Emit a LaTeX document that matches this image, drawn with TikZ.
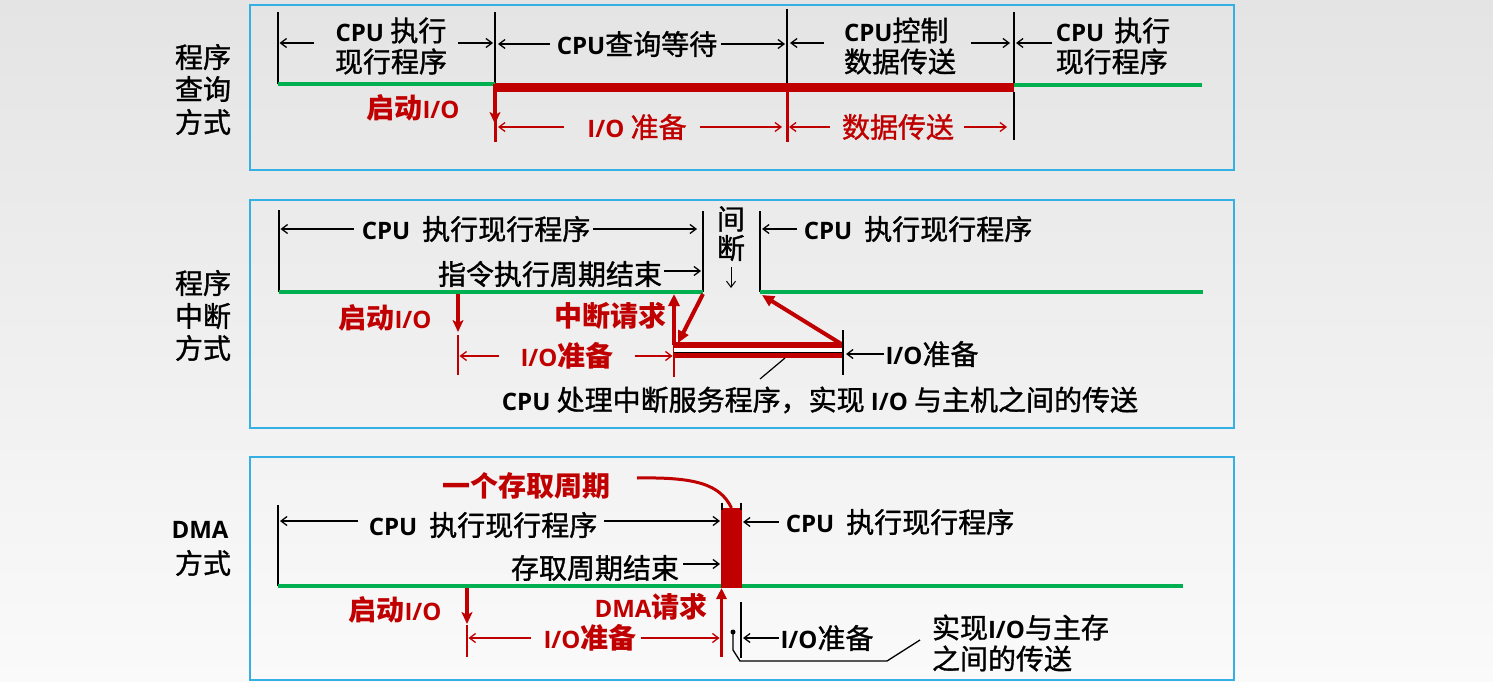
\documentclass[tikz,border=0pt]{standalone}
\usepackage{fontspec}
\setmainfont{Open Sans}
\newfontfamily\cjkf{Noto Sans CJK SC}[FakeBold=1.2]
\newfontfamily\cjkb{Noto Sans CJK SC}
\usetikzlibrary{arrows.meta}
\definecolor{dred}{RGB}{192,0,0}
\definecolor{dgreen}{RGB}{0,176,80}
\definecolor{pcyan}{RGB}{53,176,228}
\definecolor{bgtop}{RGB}{228,228,228}
\definecolor{bgbot}{RGB}{250,250,250}
\newcommand\zh[1]{{\cjkf\mdseries\fontsize{28}{31}\selectfont #1}}
\newcommand\zb[1]{{\cjkb\bfseries\fontsize{28}{31}\selectfont #1}}
\newcommand\en[1]{{\bfseries #1}}
\begin{document}
\begin{tikzpicture}[x=1pt,y=-1pt,
  lab/.style={inner sep=0pt, outer sep=0pt, font=\fontsize{24}{31}\selectfont, align=center},
  rlab/.style={lab, text=dred},
  tick/.style={line width=1.6pt, black},
  dim/.style={line width=1.3pt, -{Straight Barb[length=6pt,width=9pt]}},
  rdim/.style={dim, dred},
  gline/.style={line width=3.5pt, dgreen},
  rarrow/.style={line width=3.5pt, dred, -{Stealth[length=12pt,width=11pt,inset=3pt]}},
  rthick/.style={line width=4pt, dred, -{Triangle[length=12pt,width=11pt]}},
  panel/.style={draw=pcyan, line width=1.5pt}]
\useasboundingbox (0,0) rectangle (1493,682);
\shade[top color=bgtop, bottom color=bgbot] (0,0) rectangle (1493,682);

% ================= panel 1 =================
\draw[panel] (250,5) rectangle (1234,170);
\node[lab] (m1a) at (203,57) {\zh{程序}};
\node[lab] (m1b) at (203,89) {\zh{查询}};
\node[lab] (m1c) at (203,122) {\zh{方式}};
\coordinate (A1) at (278,84);
\coordinate (B1) at (495,84);
\coordinate (C1) at (787,84);
\coordinate (D1) at (1014,84);
\coordinate (E1) at (1202,85);
\draw[tick] (278,12) -- (A1);
\draw[tick] (495,12) -- (B1);
\draw[tick] (787,9) -- (C1);
\draw[tick] (1014,12) -- (D1);
\draw[gline] (A1) -- (B1);
\draw[gline] (D1 |- E1) -- (E1);
\fill[dred] (495,83) rectangle (1014,92);
\draw[dred, line width=3pt] (495,88) -- (495,142);
\draw[dred, line width=3pt] (787,88) -- (787,142);
\draw[line width=1.5pt] (1014,92) -- (1014,140);
\draw[rarrow] (B1) -- ++(0,40);

\node[lab] (t1) at (391,46) {\en{CPU} \zh{执行}\\\zh{现行程序}};
\draw[dim] ([xshift=-21pt,yshift=3pt]t1.west) -- ([xshift=1.5pt,yshift=3pt]A1 |- t1.west);
\draw[dim] ([xshift=11pt,yshift=3pt]t1.east) -- ([xshift=-2pt,yshift=3pt]B1 |- t1.east);
\node[lab] (t2) at (637,44) {\en{CPU}\zh{查询等待}};
\draw[dim] ([xshift=-7pt]t2.west) -- ([xshift=3pt]B1 |- t2.west);
\draw[dim] ([xshift=4pt]t2.east) -- ([xshift=-2pt]C1 |- t2.east);
\node[lab, align=left] (t3) at (900,46) {\en{CPU}\zh{控制}\\\zh{数据传送}};
\draw[dim] ([xshift=-20pt,yshift=3pt]t3.west) -- ([xshift=3pt,yshift=3pt]C1 |- t3.west);
\draw[dim] ([xshift=15pt,yshift=3pt]t3.east) -- ([xshift=-4pt,yshift=3pt]D1 |- t3.east);
\node[lab, align=left] (t4) at (1113,46) {\en{CPU}\hspace{10pt}\zh{执行}\\\zh{现行程序}};
\draw[dim] ([xshift=-4pt,yshift=3pt]t4.west) -- ([xshift=2pt,yshift=3pt]D1 |- t4.west);

\node[rlab] (r1) at (413,108) {\zb{启动}\en{I/O}};
\node[rlab] (r2) at (637,127) {\en{I/O} \zh{准备}};
\draw[rdim] ([xshift=-23pt]r2.west) -- ([xshift=3pt]B1 |- r2.west);
\draw[rdim] ([xshift=13pt]r2.east) -- ([xshift=-5pt]C1 |- r2.east);
\node[rlab] (r3) at (898,127) {\zh{数据传送}};
\draw[rdim] ([xshift=-12pt]r3.west) -- ([xshift=2pt]C1 |- r3.west);
\draw[rdim] ([xshift=10pt]r3.east) -- ([xshift=-7pt]D1 |- r3.east);

% ================= panel 2 =================
\draw[panel] (250,200) rectangle (1234,428);
\node[lab] (m2a) at (203,283) {\zh{程序}};
\node[lab] (m2b) at (203,316) {\zh{中断}};
\node[lab] (m2c) at (203,348) {\zh{方式}};
\coordinate (A2) at (279,292);
\coordinate (B2) at (703,292);
\coordinate (C2) at (760,292);
\coordinate (E2) at (1203,292);
\coordinate (S2) at (458,292);
\coordinate (R2) at (674,292);
\coordinate (I1) at (674,345);
\coordinate (I2) at (843,345);
\draw[tick] (279,210) -- (A2);
\draw[tick] (703,211) -- (B2);
\draw[tick] (760,211) -- (C2);
\draw[gline] (A2) -- (B2);
\draw[gline] (C2) -- (E2);

\node[lab] (u1) at (476,229) {\en{CPU}\hspace{12pt}\zh{执行现行程序}};
\draw[dim] ([xshift=-8pt]u1.west) -- ([xshift=1.5pt]A2 |- u1.west);
\draw[dim] ([xshift=3pt]u1.east) -- ([xshift=-6pt]B2 |- u1.east);
\node[lab] (u2) at (550,274) {\zh{指令执行周期结束}};
\draw[dim] ([xshift=2pt,yshift=3pt]u2.east) -- ([xshift=-2pt,yshift=3pt]B2 |- u2.east);
\node[lab] (jian) at (731,219) {\zh{间}};
\node[lab] (duan) at (731,248) {\zh{断}};
\draw[dim, line width=1pt] ([yshift=-6pt]duan.south) -- ([yshift=4pt]duan.south |- B2);
\node[lab] (u3) at (918,229) {\en{CPU}\hspace{12pt}\zh{执行现行程序}};
\draw[dim] ([xshift=-7pt]u3.west) -- ([xshift=2pt]C2 |- u3.west);

\node[rlab] (v1) at (385,318) {\zb{启动}\en{I/O}};
\draw[rarrow] ([yshift=-2pt]S2) -- ++(0,38);
\node[rlab] (v2) at (610,316) {\zb{中断请求}};
\node[rlab] (v3) at (567,356) {\en{I/O}\zb{准备}};
\draw[dred, line width=2.5pt] (458,335) -- (458,375);
\draw[rdim] ([xshift=-22pt]v3.west) -- ([xshift=1.5pt]S2 |- v3.west);
\draw[rdim] ([xshift=22pt]v3.east) -- ([xshift=-1.5pt]R2 |- v3.east);
\draw[dred, line width=2.5pt] (I1) -- (674,377);
\fill[white] ([yshift=-3pt]I1) rectangle ([yshift=-7pt]I2);
\draw[dred, line width=6pt] (I1) -- (I2);
\draw[line width=1pt] ([yshift=-7pt]I1) -- ([yshift=-7pt]I2);
\draw[dred, line width=5pt] ([yshift=-10.5pt]I1) -- ([yshift=-10.5pt]I2);
\draw[rthick] (I1) -- ([yshift=-2pt]R2);
\draw[rthick] ([yshift=-2pt]B2) -- ([xshift=4pt,yshift=2pt]I1);
\draw[rthick] (I2) -- ([xshift=2pt,yshift=-3pt]C2);
\draw[tick] (843,330) -- (843,375);
\node[lab] (v4) at (932,354) {\en{I/O}\zh{准备}};
\draw[dim] ([xshift=-2pt]v4.west) -- ([xshift=3pt]I2 |- v4.west);
\coordinate (L2a) at (785,358);
\coordinate (L2b) at (760,379);
\draw[line width=1.2pt] (L2a) -- (L2b);
\node[lab] (v5) at (820,400) {\en{CPU} \zh{处理中断服务程序，实现} \en{I/O} \zh{与主机之间的传送}};

% ================= panel 3 =================
\draw[panel] (250,457) rectangle (1234,680);
\node[lab] (m3a) at (200,530) {\en{DMA}};
\node[lab] (m3b) at (203,563) {\zh{方式}};
\coordinate (A3) at (278,586);
\coordinate (B3) at (721,586);
\coordinate (C3) at (742,586);
\coordinate (E3) at (1183,586);
\coordinate (S3) at (467,586);
\coordinate (U3) at (721.5,657);
\coordinate (V3) at (741,602);
\draw[tick] (278,505) -- (A3);
\draw[gline] (A3) -- (B3);
\draw[gline] (C3) -- (E3);
\node[fill=dred, minimum width=21pt, minimum height=80pt, inner sep=0pt, outer sep=0pt, anchor=north west] (blk) at (721,508) {};
\draw[line width=1.2pt] (722,503) -- (722,510);
\draw[line width=1.2pt] (741,503) -- (741,510);
\node[rlab] (w1) at (526,486) {\zb{一个存取周期}};
\draw[dred, line width=3pt] ([xshift=27pt,yshift=8pt]w1.east) .. controls (695,477) and (720,484) .. (blk.north);

\node[lab] (w2) at (483,525) {\en{CPU}\hspace{12pt}\zh{执行现行程序}};
\draw[dim] ([xshift=-11pt,yshift=4pt]w2.west) -- ([xshift=2pt,yshift=4pt]A3 |- w2.west);
\draw[dim] ([xshift=7pt,yshift=4pt]w2.east) -- ([xshift=-1pt,yshift=4pt]blk.west |- w2.east);
\node[lab] (w3) at (595,568) {\zh{存取周期结束}};
\draw[dim] ([xshift=4pt,yshift=4pt]w3.east) -- ([xshift=-1pt,yshift=4pt]blk.west |- w3.east);
\node[lab] (w4) at (900,522) {\en{CPU}\hspace{12pt}\zh{执行现行程序}};
\draw[dim] ([xshift=-7pt]w4.west) -- ([xshift=1pt]blk.east |- w4.west);

\node[rlab] (x1) at (395,610) {\zb{启动}\en{I/O}};
\draw[rarrow] ([yshift=-2pt]S3) -- ++(0,36);
\node[rlab] (x2) at (651,607) {\en{DMA}\zb{请求}};
\draw[line width=3pt, dred, -{Triangle[length=11pt,width=10pt]}] (U3) -- ([xshift=0.5pt,yshift=-2pt]B3);
\node[rlab] (x3) at (590,638) {\en{I/O}\zb{准备}};
\draw[dred, line width=2.5pt] (467,625) -- (467,657);
\draw[rdim] ([xshift=-13pt]x3.west) -- ([xshift=1.5pt]S3 |- x3.west);
\draw[rdim] ([xshift=5pt]x3.east) -- ([xshift=-2pt]U3 |- x3.east);
\draw[line width=1.5pt] (V3) -- (741,658);
\node[lab] (x4) at (827,638) {\en{I/O}\zh{准备}};
\draw[dim] ([xshift=-2pt]x4.west) -- ([xshift=2pt]V3 |- x4.west);
\coordinate (dot) at (733,632);
\fill (dot) circle (2.5pt);
\draw[line width=1.3pt] (dot) -- (733,650) -- (740,661) -- (887,661) -- (920,640);
\node[lab, align=left, anchor=west] (x5) at (932,643) {\zh{实现}\en{I/O}\zh{与主存}\\\zh{之间的传送}};
\end{tikzpicture}
\end{document}
